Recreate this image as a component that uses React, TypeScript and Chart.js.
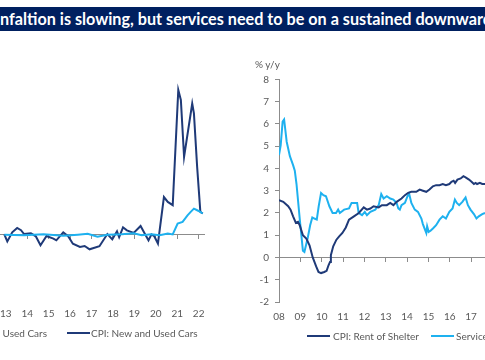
import React, { useEffect, useRef } from "react";
import { Chart, registerables } from "chart.js";
Chart.register(...registerables);

const NAVY = "#1f3a78";
const SKY = "#1eb1ef";
const AXIS = "#8c8c8c";
const TXT = "#595959";
const FONT = "Lato, 'Liberation Sans', sans-serif";

const titleText = "nfaltion is slowing, but services need to be on a sustained downward trend";

// Left panel: CPI cars, % y/y (decimal years)
const leftNavyDates = [2012.93, 2013.07, 2013.3, 2013.53, 2013.71, 2013.85, 2014.17, 2014.4, 2014.62, 2014.9, 2015.22, 2015.36, 2015.68, 2015.91, 2016.13, 2016.46, 2016.68, 2016.91, 2017.37, 2017.74, 2017.97, 2018.19, 2018.29, 2018.47, 2018.65, 2018.97, 2019.29, 2019.52, 2019.66, 2019.8, 2019.93, 2020.1, 2020.38, 2020.56, 2020.79, 2021.05, 2021.17, 2021.32, 2021.7, 2021.78, 2021.93, 2022.08, 2022.19];
const leftNavyValues = [0.1, -2.1, 0.75, 2.1, 1.4, 0.2, 0.45, -0.5, -3.3, -0.4, -1.2, -1.75, 0.75, -0.5, -2.8, -3.8, -3.5, -4.55, -3.6, 0.2, -1.45, 1.05, -0.8, 2.3, 1.35, 0.55, 2.7, -0.1, -1.75, 0.1, -0.5, -2.8, 11.7, 10.2, 9.2, 45.0, 41.9, 24.2, 40.8, 37.7, 21.1, 7.1, 6.6];
const leftSkyDates = [2012.93, 2013.85, 2014.76, 2015.68, 2016.36, 2016.82, 2017.28, 2017.74, 2018.42, 2018.97, 2019.34, 2019.8, 2020.18, 2020.56, 2020.79, 2021.02, 2021.25, 2021.48, 2021.63, 2021.78, 2021.93, 2022.08, 2022.19];
const leftSkyValues = [0, -0.2, 0.1, -0.35, 0, 0.3, -0.65, 0, 0.1, 0.45, -0.2, 0.1, -0.2, 0.35, 0.1, 3.45, 4.0, 6.0, 7.1, 8.1, 7.6, 7.1, 6.6];

// Right panel: % y/y
const rightShelterDates = [2008.0, 2008.2, 2008.43, 2008.54, 2008.66, 2008.79, 2008.89, 2008.97, 2009.12, 2009.28, 2009.43, 2009.58, 2009.66, 2009.74, 2009.85, 2009.97, 2010.12, 2010.23, 2010.32, 2010.39, 2010.43, 2010.54, 2010.69, 2010.82, 2010.97, 2011.13, 2011.28, 2011.51, 2011.74, 2011.97, 2012.12, 2012.28, 2012.43, 2012.67, 2012.82, 2013.05, 2013.21, 2013.36, 2013.51, 2013.74, 2013.9, 2014.05, 2014.2, 2014.43, 2014.59, 2014.74, 2014.9, 2015.05, 2015.21, 2015.36, 2015.52, 2015.67, 2015.82, 2015.98, 2016.08, 2016.18, 2016.25, 2016.36, 2016.51, 2016.64, 2016.74, 2016.9, 2017.02, 2017.13, 2017.21, 2017.28, 2017.41, 2017.52, 2017.65];
const rightShelterValues = [2.58, 2.5, 2.3, 2.15, 1.85, 1.55, 1.6, 1.45, 1.0, 0.85, 0.55, 0.0, -0.2, -0.4, -0.65, -0.7, -0.65, -0.6, -0.35, -0.2, 0.1, 0.5, 0.8, 0.95, 1.1, 1.35, 1.7, 1.85, 2.0, 2.25, 2.15, 2.2, 2.3, 2.25, 2.35, 2.35, 2.45, 2.35, 2.5, 2.65, 2.8, 2.9, 2.95, 2.95, 3.05, 3.0, 2.95, 3.05, 3.2, 3.25, 3.25, 3.3, 3.25, 3.3, 3.4, 3.45, 3.35, 3.5, 3.55, 3.65, 3.6, 3.5, 3.4, 3.3, 3.35, 3.3, 3.35, 3.3, 3.3];
const rightServicesDates = [2008.0, 2008.08, 2008.17, 2008.24, 2008.36, 2008.51, 2008.66, 2008.74, 2008.82, 2008.97, 2009.12, 2009.19, 2009.35, 2009.46, 2009.56, 2009.66, 2009.77, 2009.86, 2009.97, 2010.08, 2010.2, 2010.36, 2010.51, 2010.67, 2010.77, 2010.85, 2011.05, 2011.28, 2011.4, 2011.66, 2011.73, 2011.89, 2012.02, 2012.12, 2012.28, 2012.51, 2012.67, 2012.79, 2012.9, 2013.05, 2013.21, 2013.36, 2013.51, 2013.59, 2013.66, 2013.74, 2013.9, 2014.02, 2014.1, 2014.2, 2014.36, 2014.51, 2014.67, 2014.74, 2014.82, 2014.9, 2014.94, 2015.01, 2015.1, 2015.21, 2015.36, 2015.52, 2015.67, 2015.82, 2015.98, 2016.13, 2016.24, 2016.33, 2016.44, 2016.59, 2016.74, 2016.85, 2016.97, 2017.13, 2017.25, 2017.36, 2017.52, 2017.65];
const rightServicesValues = [4.6, 5.05, 6.1, 6.2, 5.2, 4.55, 4.15, 3.9, 3.3, 1.75, 0.3, 0.25, 0.9, 1.45, 1.8, 1.75, 1.7, 2.3, 2.9, 2.8, 2.75, 2.3, 2.0, 2.0, 2.15, 2.0, 2.15, 2.2, 2.45, 2.45, 2.0, 1.9, 2.05, 1.9, 2.05, 2.15, 2.35, 2.85, 2.65, 2.75, 2.65, 2.6, 2.45, 2.2, 2.15, 2.35, 2.45, 2.75, 2.85, 2.45, 2.15, 2.05, 1.75, 1.5, 1.3, 1.1, 1.4, 1.15, 1.2, 1.3, 1.45, 1.7, 1.85, 1.75, 2.05, 2.2, 2.6, 2.45, 2.35, 2.5, 2.7, 2.35, 2.15, 1.95, 1.75, 1.85, 1.95, 2.0];

const yearLabel = (v: number) => (Number.isInteger(v) ? String(v).slice(2) : "");
const zip = (xs: number[], ys: number[]) => xs.map((x, i) => ({ x, y: ys[i] }));

function useChart(ref: React.RefObject<HTMLCanvasElement>, makeConfig: () => any) {
  useEffect(() => {
    if (!ref.current) return;
    const chart = new Chart(ref.current, makeConfig());
    return () => chart.destroy();
  }, []);
}

const tickFont = { family: FONT, size: 10 };

function bottomAxis(min: number, max: number) {
  return {
    type: "linear",
    position: "bottom",
    min,
    max,
    grid: { display: false, drawTicks: false },
    border: { display: false },
    ticks: { stepSize: 1, includeBounds: false, padding: 9, color: TXT, font: tickFont, maxRotation: 0, autoSkip: false, callback: (v: number) => yearLabel(v) },
    afterFit: (s: any) => { s.height = 30; },
  };
}
function zeroAxis(min: number, max: number) {
  return {
    type: "linear",
    position: { y: 0 },
    min,
    max,
    grid: { drawOnChartArea: false, drawTicks: true, tickLength: 4, color: AXIS },
    border: { display: true, color: AXIS, width: 1 },
    ticks: { display: false, stepSize: 1, includeBounds: false },
  };
}
const lineDs = (label: string, data: any, color: string) => ({ label, data, borderColor: color, backgroundColor: color, borderWidth: 2, pointRadius: 0, tension: 0, fill: false });

function LeftChart() {
  const ref = useRef<HTMLCanvasElement>(null);
  useChart(ref, () => ({
    type: "line",
    data: {
      datasets: [
        lineDs("CPI: Used Cars", zip(leftSkyDates, leftSkyValues), SKY),
        lineDs("CPI: New and Used Cars", zip(leftNavyDates, leftNavyValues), NAVY),
      ],
    },
    options: {
      animation: false,
      responsive: false,
      layout: { padding: { left: 0, right: 10, top: 13.9, bottom: 0 } },
      plugins: { legend: { display: false }, tooltip: { enabled: false }, title: { display: false } },
      scales: {
        x: bottomAxis(2012.5, 2022.25),
        xz: zeroAxis(2012.5, 2022.25),
        y: { type: "linear", min: -20, max: 50, display: false },
      },
    },
  }));
  return <canvas ref={ref} width={223} height={269} style={{ position: "absolute", left: -9.4, top: 60 }} />;
}

function RightChart() {
  const ref = useRef<HTMLCanvasElement>(null);
  useChart(ref, () => ({
    type: "line",
    data: {
      datasets: [
        lineDs("CPI: Rent of Shelter", zip(rightShelterDates, rightShelterValues), NAVY),
        lineDs("Services", zip(rightServicesDates, rightServicesValues), SKY),
      ],
    },
    options: {
      animation: false,
      responsive: false,
      layout: { padding: { left: 0, right: 10, top: 19.4, bottom: 0 } },
      plugins: { legend: { display: false }, tooltip: { enabled: false } },
      scales: {
        x: bottomAxis(2008, 2023),
        xz: zeroAxis(2008, 2023),
        y: {
          type: "linear",
          min: -2,
          max: 8,
          grid: { drawOnChartArea: false, drawTicks: true, tickLength: 4, color: AXIS },
          border: { display: true, color: AXIS, width: 1 },
          ticks: { stepSize: 1, padding: 6, color: TXT, font: tickFont },
          afterFit: (s: any) => { s.width = 40; },
        },
      },
    },
  }));
  return <canvas ref={ref} width={375} height={272} style={{ position: "absolute", left: 239, top: 60 }} />;
}

const legendText: React.CSSProperties = { position: "absolute", fontFamily: FONT, fontSize: 10, color: TXT, lineHeight: "14px", whiteSpace: "nowrap" };
const legendLine = (left: number, top: number, width: number, color: string): React.CSSProperties => ({ position: "absolute", left, top, width, height: 2, background: color });

export default function App() {
  useEffect(() => {
    document.body.style.margin = "0";
  }, []);
  return (
    <div style={{ position: "fixed", left: 0, top: 0, width: 485, height: 360, overflow: "hidden", background: "#fff" }}>
      <div style={{ position: "absolute", left: 0, top: 7, width: 485, height: 24, background: "#002060", color: "#fff", fontFamily: FONT, fontWeight: 700, fontSize: 16.2, lineHeight: "24px", whiteSpace: "nowrap", overflow: "hidden" }}>
        {titleText}
      </div>
      <LeftChart />
      <RightChart />
      <div style={{ ...legendText, left: 255, top: 57 }}>% y/y</div>
      {/* left legend */}
      <div style={{ ...legendText, right: 438, top: 326 }}>CPI: Used Cars</div>
      <div style={legendLine(67, 332, 23, NAVY)} />
      <div style={{ ...legendText, left: 91, top: 326 }}>CPI: New and Used Cars</div>
      {/* right legend */}
      <div style={legendLine(307, 335, 23, NAVY)} />
      <div style={{ ...legendText, left: 333, top: 329 }}>CPI: Rent of Shelter</div>
      <div style={legendLine(431, 335, 23, SKY)} />
      <div style={{ ...legendText, left: 456, top: 329 }}>Services</div>
    </div>
  );
}
